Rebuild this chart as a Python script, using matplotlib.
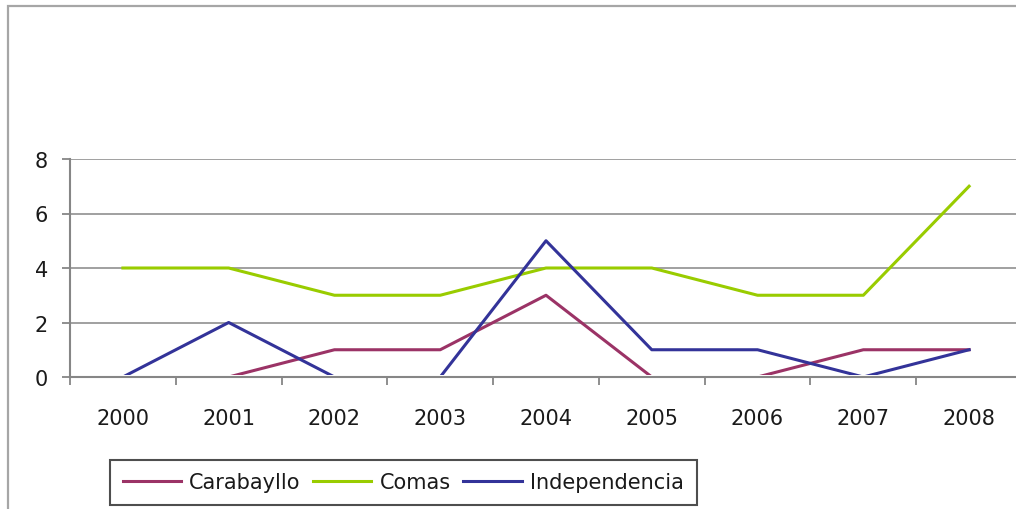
import matplotlib.pyplot as plt
from matplotlib.patches import Rectangle
import numpy as np

years = ["2000", "2001", "2002", "2003", "2004", "2005", "2006", "2007", "2008"]
carabayllo = [0, 0, 1, 1, 3, 0, 0, 1, 1]
comas = [4, 4, 3, 3, 4, 4, 3, 3, 7]
independencia = [0, 2, 0, 0, 5, 1, 1, 0, 1]

W, H = 1016, 510
fig = plt.figure(figsize=(W / 100, H / 100), dpi=100)
plt.rcParams['font.family'] = ['DejaVu Sans']

# outer chart border (gray), runs off the right/bottom edge
fig.patches.append(Rectangle((8 / W, -0.1), 1.2, 1 - 7 / H + 0.1, transform=fig.transFigure,
                             fill=False, edgecolor="#a6a6a6", lw=1.6))

ax = fig.add_axes([70 / W, 1 - 378 / H, 952 / W, (378 - 160) / H])
x = np.arange(len(years))
grey = "#868686"

# lines sitting on zero are hidden under the category axis, like in the original
clip = Rectangle((-0.5, 0.075), 10, 20, transform=ax.transData)
for vals, col, name in [(carabayllo, "#9b3366", "Carabayllo"),
                        (comas, "#99cc00", "Comas"),
                        (independencia, "#333399", "Independencia")]:
    ln, = ax.plot(x, vals, color=col, lw=2.2, label=name)
    ln.set_clip_path(clip)

ax.set_xlim(-0.5, len(years) - 0.5)
ax.set_ylim(0, 8)
ax.set_yticks([0, 2, 4, 6, 8])
ax.set_xticks(x)
ax.set_xticklabels(years)
ax.set_xticks(np.arange(-0.5, len(years)), minor=True)
ax.tick_params(axis="x", which="major", length=0, pad=22, labelsize=15, labelcolor="#1a1a1a")
ax.tick_params(axis="x", which="minor", length=6, width=1.3, color=grey, direction="out")
ax.tick_params(axis="y", length=6, width=1.3, color=grey, direction="out", pad=10,
               labelsize=15, labelcolor="#1a1a1a")
ax.yaxis.grid(True, color=grey, lw=1.1)
for s in ["top", "right"]:
    ax.spines[s].set_visible(False)
for s in ["left", "bottom"]:
    ax.spines[s].set_color(grey)
    ax.spines[s].set_linewidth(1.5)
    ax.spines[s].set_zorder(5)

leg = fig.legend(loc="lower left", bbox_to_anchor=(110 / W, 4 / H), ncol=3, fontsize=15,
                 frameon=True, fancybox=False, handlelength=2.8, handletextpad=0.4,
                 columnspacing=0.6, borderpad=0.6, borderaxespad=0)
leg.get_frame().set_edgecolor("#222222")
leg.get_frame().set_linewidth(1.5)
for t in leg.get_texts():
    t.set_color("#1a1a1a")

fig.savefig("out.png", dpi=100)
